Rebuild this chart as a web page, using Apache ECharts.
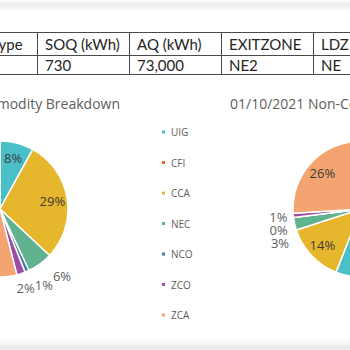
<!DOCTYPE html>
<html>
<head>
<meta charset="utf-8">
<script src="https://cdn.jsdelivr.net/npm/echarts@6/dist/echarts.min.js"></script>
<style>
html, body { margin: 0; padding: 0; background: #fff; }
#main { width: 350px; height: 350px; }
</style>
</head>
<body>
<div id="main"></div>
<script>
var categories = ['UIG', 'CFI', 'CCA', 'NEC', 'NCO', 'ZCO', 'ZCA'];
var commodityPct = [8, '-', 29, 6, 1, 2, 54];
var nonCommodityPct = [56, '-', 14, 3, 0, 1, 26];
var tableHeaders = ['Type', 'SOQ (kWh)', 'AQ (kWh)', 'EXITZONE', 'LDZ'];
var tableValues = ['', '730', '73,000', 'NE2', 'NE'];

var colors = ['#4bbfc8', '#f0642e', '#e6b62c', '#61b28f', '#3f7ea3', '#9c4ea6', '#f4a470'];
var colX = [-17, 37, 129, 221, 313];

var graphics = [];
// bottom of the card above
graphics.push({
    type: 'rect', shape: { x: -5, y: 0, width: 360, height: 12 },
    style: { fill: new echarts.graphic.LinearGradient(0, 0, 0, 1, [
        { offset: 0, color: '#ffffff' }, { offset: 0.35, color: '#ececec' }, { offset: 1, color: '#ffffff' }
    ]) }
});
// page background below this card
graphics.push({
    type: 'rect', shape: { x: -5, y: 338, width: 360, height: 7 },
    style: { fill: new echarts.graphic.LinearGradient(0, 0, 0, 1, [
        { offset: 0, color: '#ffffff' }, { offset: 1, color: '#f2f2f2' }
    ]) }
});
graphics.push({ type: 'rect', shape: { x: -5, y: 345, width: 360, height: 5 }, style: { fill: '#ebebeb' } });

// table
[32, 55, 74].forEach(function (y) {
    graphics.push({ type: 'line', shape: { x1: -5, y1: y + 0.5, x2: 355, y2: y + 0.5 }, style: { stroke: '#4a4a4a', lineWidth: 1 } });
});
colX.slice(1).forEach(function (x) {
    graphics.push({ type: 'line', shape: { x1: x + 0.5, y1: 32, x2: x + 0.5, y2: 75 }, style: { stroke: '#4a4a4a', lineWidth: 1 } });
});
tableHeaders.forEach(function (h, i) {
    graphics.push({ type: 'text', x: colX[i] + 8, y: 43.5,
        style: { text: h, fontSize: 15, fontFamily: 'Lato', fill: '#252423', verticalAlign: 'middle' } });
    graphics.push({ type: 'text', x: colX[i] + 8, y: 64.5,
        style: { text: tableValues[i], fontSize: 15, fontFamily: 'Lato', fill: '#252423', verticalAlign: 'middle' } });
});

function buildData(values, showFn) {
    return categories.map(function (name, i) {
        var v = values[i];
        return {
            name: name, value: v,
            itemStyle: { color: showFn ? 'rgba(0,0,0,0)' : colors[i] },
            label: { show: showFn ? (v !== '-' && showFn(v)) : false }
        };
    });
}

function pieSeries(values, cx, move) {
    var base = { type: 'pie', center: [cx, 209], startAngle: 90, clockwise: true, avoidLabelOverlap: false };
    var main = echarts.util.extend({
        radius: [0, 68],
        itemStyle: { borderColor: '#fff', borderWidth: 1.5 },
        data: buildData(values)
    }, base);
    // transparent rings, only used to place the labels
    var inner = echarts.util.extend({
        silent: true,
        radius: [32, 68],
        data: buildData(values, function (v) { return v >= 8; }),
        label: { position: 'inside', formatter: '{c}%', fontSize: 13, color: '#3b3a39', fontFamily: 'Open Sans' }
    }, base);
    var outer = echarts.util.extend({
        silent: true,
        radius: [68, 92],
        data: buildData(values, function (v) { return v < 8; }),
        labelLayout: { moveOverlap: move },
        label: { position: 'inside', formatter: '{c}%', fontSize: 13, color: '#605e5c', fontFamily: 'Open Sans', padding: [2, 1] }
    }, base);
    return [main, inner, outer];
}

var myChart = echarts.init(document.getElementById('main'), null, { renderer: 'svg' });
var option = {
    animation: false,
    title: [
        { text: '01/10/2021 Commodity Breakdown', right: 230, top: 96, padding: 0,
          textStyle: { fontSize: 14, fontWeight: 'normal', color: '#605e5c', fontFamily: 'Open Sans' } },
        { text: '01/10/2021 Non-Commodity Breakdown', left: 230, top: 96, padding: 0,
          textStyle: { fontSize: 14, fontWeight: 'normal', color: '#605e5c', fontFamily: 'Open Sans' } }
    ],
    legend: {
        orient: 'vertical',
        left: 155,
        top: 122,
        icon: 'rect',
        itemWidth: 5,
        itemHeight: 5,
        itemGap: 20.5,
        textStyle: { fontSize: 10, color: '#605e5c', fontFamily: 'Open Sans' },
        data: categories.map(function (name, i) { return { name: name, itemStyle: { color: colors[i] } }; })
    },
    graphic: graphics,
    series: pieSeries(commodityPct, 0, 'shiftX').concat(pieSeries(nonCommodityPct, 361, 'shiftY'))
};
myChart.setOption(option);
</script>
</body>
</html>
